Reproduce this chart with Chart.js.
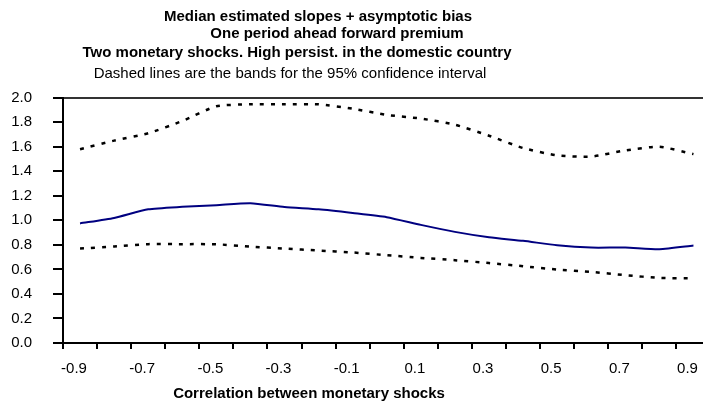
<!DOCTYPE html>
<html>
<head>
<meta charset="utf-8">
<script src="https://cdn.jsdelivr.net/npm/chart.js@4/dist/chart.umd.min.js"></script>
<style>
  html, body { margin: 0; padding: 0; background: #fff; overflow: hidden; }
  #wrap { width: 703px; height: 407px; overflow: hidden; }
</style>
</head>
<body>
<div id="wrap"><canvas id="slopeChart" width="720" height="407"></canvas></div>
<script>
// correlation between the two monetary shocks
const correlations = ['-0.9', '-0.8', '-0.7', '-0.6', '-0.5', '-0.4', '-0.3', '-0.2', '-0.1', '0.0',
    '0.1', '0.2', '0.3', '0.4', '0.5', '0.6', '0.7', '0.8', '0.9'];

const medianSlope = [0.975, 1.02, 1.09, 1.11, 1.124, 1.14, 1.108, 1.09, 1.06, 1.026,
    0.963, 0.906, 0.862, 0.833, 0.797, 0.778, 0.778, 0.765, 0.795];
const upperBand = [1.58, 1.65, 1.71, 1.81, 1.93, 1.946, 1.946, 1.946, 1.91, 1.86,
    1.83, 1.78, 1.69, 1.59, 1.53, 1.52, 1.57, 1.60, 1.54];
const lowerBand = [0.77, 0.787, 0.806, 0.806, 0.805, 0.786, 0.77, 0.754, 0.738, 0.716,
    0.694, 0.675, 0.652, 0.626, 0.599, 0.58, 0.553, 0.531, 0.527];

const titleLines = [
    'Median estimated slopes + asymptotic bias',
    'One period ahead forward premium',
    'Two monetary shocks. High persist. in the domestic country',
    'Dashed lines are the bands for the 95% confidence interval'
];
const xAxisTitle = 'Correlation between monetary shocks';

const FONT = '"Liberation Sans", Arial, sans-serif';

// titles are not centred on the same spot in the original, so draw them by hand
const titlePlugin = {
    id: 'handTitles',
    afterDraw(chart) {
        const c = chart.ctx;
        const spots = [[318, 20.5, 'bold'], [337, 37.5, 'bold'], [297, 57, 'bold'], [290, 77.5, 'normal']];
        c.save();
        c.fillStyle = '#000';
        c.textAlign = 'center';
        c.textBaseline = 'alphabetic';
        titleLines.forEach((t, i) => {
            c.font = spots[i][2] + ' 15px ' + FONT;
            c.fillText(t, spots[i][0], spots[i][1]);
        });
        c.font = 'bold 15px ' + FONT;
        c.fillText(xAxisTitle, 309, 397.5);
        c.restore();
    }
};

const ctx = document.getElementById('slopeChart').getContext('2d');

const bandStyle = {
    borderColor: '#000',
    borderWidth: 2.5,
    borderDash: [4, 7],
    pointRadius: 0,
    tension: 0.2,
    fill: false,
};

new Chart(ctx, {
    type: 'line',
    data: {
        labels: correlations,
        datasets: [
            { label: 'Median', data: medianSlope, borderColor: '#000080', borderWidth: 2, pointRadius: 0, tension: 0.2, fill: false },
            Object.assign({ label: 'Upper 95%', data: upperBand }, bandStyle),
            Object.assign({ label: 'Lower 95%', data: lowerBand }, bandStyle),
        ],
    },
    options: {
        responsive: false,
        animation: false,
        layout: { padding: { top: 97.7, right: 9.5, left: 0, bottom: 0 } },
        plugins: { legend: { display: false }, tooltip: { enabled: false }, title: { display: false } },
        scales: {
            x: {
                type: 'category',
                offset: true,
                afterFit(s) { s.height = 64; },
                grid: { offset: true, drawOnChartArea: false, tickLength: 6, tickColor: '#000', lineWidth: 2 },
                border: { color: '#000', width: 2 },
                ticks: {
                    autoSkip: false,
                    maxRotation: 0,
                    padding: 11,
                    labelOffset: -6,
                    color: '#000',
                    font: { family: FONT, size: 15 },
                    callback: (v, i) => (i % 2 === 0 ? correlations[i] : ''),
                },
            },
            y: {
                min: 0,
                max: 2,
                afterFit(s) { s.width = 63; },
                grid: {
                    color: c => (c.tick && c.tick.value === 2 ? '#333' : 'rgba(0,0,0,0)'),
                    tickColor: '#000',
                    tickLength: 10,
                    lineWidth: 2,
                },
                border: { color: '#000', width: 2 },
                ticks: {
                    stepSize: 0.2,
                    padding: 21,
                    color: '#000',
                    font: { family: FONT, size: 15 },
                    callback: v => v.toFixed(1),
                },
            },
        },
    },
    plugins: [titlePlugin],
});
</script>
</body>
</html>
